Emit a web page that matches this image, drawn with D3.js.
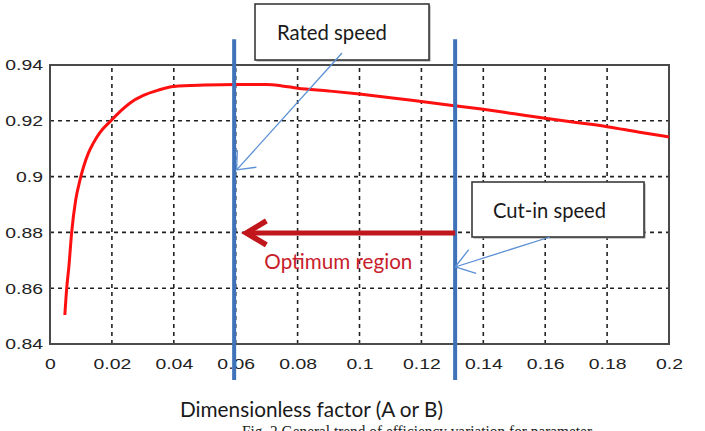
<!DOCTYPE html>
<html>
<head>
<meta charset="utf-8">
<script src="https://cdn.jsdelivr.net/npm/d3@7"></script>
<style>
  html, body { margin: 0; padding: 0; background: #fff; }
  svg { display: block; }
</style>
</head>
<body>
<svg id="chart" width="705" height="431"></svg>
<script>
// Efficiency curve versus the dimensionless factor
const factorX = [0.0048, 0.0054, 0.0061, 0.007, 0.0083, 0.0097, 0.0124, 0.014, 0.016, 0.0194,
                 0.0226, 0.026, 0.03, 0.035, 0.04, 0.05, 0.06, 0.07, 0.075, 0.08, 0.09, 0.1, 0.11,
                 0.12, 0.13, 0.14, 0.15, 0.16, 0.17, 0.18, 0.19, 0.2];
const efficiency = [0.8504, 0.86, 0.8677, 0.88, 0.8916, 0.8988, 0.9084, 0.912, 0.9156, 0.9197,
                    0.9233, 0.9265, 0.929, 0.931, 0.9323, 0.9328, 0.933, 0.933, 0.9325, 0.9317, 0.9307, 0.9296, 0.9283,
                    0.9269, 0.9255, 0.9241, 0.9225, 0.9209, 0.9194, 0.9179, 0.916, 0.9142];

// Axis ticks
const xTicks = [0, 0.02, 0.04, 0.06, 0.08, 0.1, 0.12, 0.14, 0.16, 0.18, 0.2];
const xTickLabels = ["0", "0.02", "0.04", "0.06", "0.08", "0.1", "0.12", "0.14", "0.16", "0.18", "0.2"];
const yTicks = [0.84, 0.86, 0.88, 0.9, 0.92, 0.94];
const yTickLabels = ["0.84", "0.86", "0.88", "0.9", "0.92", "0.94"];

// Speed markers and optimum region
const ratedSpeedX = 0.0595;
const cutInSpeedX = 0.1309;
const markerSpan = [0.8271, 0.9492];
const optimumArrow = { from: cutInSpeedX, to: 0.0628, level: 0.8798 };
const ratedPointer = { tip: [0.0603, 0.9024] };
const cutInPointer = { tip: [0.1309, 0.8676] };

const svg = d3.select("#chart");
const margin = { left: 50, right: 36, top: 65, bottom: 87 };
const W = 705, H = 431;

const x = d3.scaleLinear().domain([0, 0.2]).range([margin.left, W - margin.right]);
const y = d3.scaleLinear().domain([0.84, 0.94]).range([H - margin.bottom, margin.top]);

svg.append("rect").attr("width", W).attr("height", H).attr("fill", "#fff");

// Dashed grid
const grid = svg.append("g").attr("stroke", "#222").attr("stroke-width", 1.6)
  .attr("stroke-dasharray", "4,4");
grid.selectAll("line.v").data(xTicks.slice(1, -1)).join("line")
  .attr("x1", d => x(d)).attr("x2", d => x(d))
  .attr("y1", y(0.84)).attr("y2", y(0.94));
grid.selectAll("line.h").data(yTicks.slice(1, -1)).join("line")
  .attr("x1", x(0)).attr("x2", x(0.2))
  .attr("y1", d => y(d)).attr("y2", d => y(d));

// Axes frame
svg.append("rect")
  .attr("x", x(0)).attr("y", y(0.94))
  .attr("width", x(0.2) - x(0)).attr("height", y(0.84) - y(0.94))
  .attr("fill", "none").attr("stroke", "#4a4a4a").attr("stroke-width", 2);

// Tick labels, set in a slightly widened sans face
function styleTicks(sel) {
  sel.selectAll("text")
    .attr("font-family", "Liberation Sans, Arial, sans-serif")
    .attr("font-size", 15.5).attr("fill", "#222")
    .each(function () {
      const w = this.getComputedTextLength();
      d3.select(this).attr("textLength", w * 1.25).attr("lengthAdjust", "spacingAndGlyphs");
    });
}
const xAxis = d3.axisBottom(x).tickValues(xTicks).tickSize(0).tickPadding(14)
  .tickFormat((d, i) => xTickLabels[i]);
const gx = svg.append("g").attr("transform", `translate(0,${y(0.84)})`).call(xAxis);
gx.select(".domain").remove();
styleTicks(gx);

const yAxis = d3.axisLeft(y).tickValues(yTicks).tickSize(0).tickPadding(7)
  .tickFormat((d, i) => yTickLabels[i]);
const gy = svg.append("g").attr("transform", `translate(${x(0)},0)`).call(yAxis);
gy.select(".domain").remove();
styleTicks(gy);

// Efficiency curve
const line = d3.line().x(d => x(d[0])).y(d => y(d[1])).curve(d3.curveMonotoneX);
svg.append("path")
  .datum(factorX.map((v, i) => [v, efficiency[i]]))
  .attr("d", line).attr("fill", "none")
  .attr("stroke", "#ff1010").attr("stroke-width", 3);

// Vertical speed markers
svg.selectAll("line.marker").data([ratedSpeedX, cutInSpeedX]).join("line")
  .attr("x1", d => x(d)).attr("x2", d => x(d))
  .attr("y1", y(markerSpan[1])).attr("y2", y(markerSpan[0]))
  .attr("stroke", "#3f72b8").attr("stroke-width", 4);

// Optimum region arrow
const ay = y(optimumArrow.level);
const tipX = x(optimumArrow.to);
svg.append("line")
  .attr("x1", x(optimumArrow.from)).attr("x2", tipX + 3)
  .attr("y1", ay).attr("y2", ay)
  .attr("stroke", "#c0161c").attr("stroke-width", 5);
svg.append("polyline")
  .attr("points", `${tipX + 22},${ay - 12} ${tipX + 2},${ay} ${tipX + 22},${ay + 12}`)
  .attr("fill", "none").attr("stroke", "#c0161c").attr("stroke-width", 5.5)
  .attr("stroke-linejoin", "miter").attr("stroke-linecap", "butt");
svg.append("text")
  .attr("x", tipX + 20).attr("y", ay + 36)
  .attr("font-family", "Lato, 'Open Sans', sans-serif").attr("font-size", 21)
  .attr("fill", "#c8202a")
  .attr("textLength", 148).attr("lengthAdjust", "spacingAndGlyphs")
  .text("Optimum region");

// Callout boxes
function callout(bx, by, bw, bh, label, tx, tw) {
  svg.append("rect").attr("x", bx + 1.5).attr("y", by + 1.5).attr("width", bw).attr("height", bh)
    .attr("fill", "#999");
  svg.append("rect").attr("x", bx).attr("y", by).attr("width", bw).attr("height", bh)
    .attr("fill", "#fff").attr("stroke", "#3a3a3a").attr("stroke-width", 1.6);
  svg.append("text").attr("x", tx).attr("y", by + bh / 2 + 8)
    .attr("font-family", "Lato, 'Open Sans', sans-serif").attr("font-size", 21)
    .attr("fill", "#1a1a1a")
    .attr("textLength", tw).attr("lengthAdjust", "spacingAndGlyphs")
    .text(label);
}
callout(255, 4, 174, 56, "Rated speed", 277, 110);
callout(472, 182, 172, 55, "Cut-in speed", 493, 113);

// Thin pointer arrows
function pointer(x0, y0, tip, len, spread) {
  const tx = x(tip[0]), ty = y(tip[1]);
  const ang = Math.atan2(y0 - ty, x0 - tx);
  const g = svg.append("g").attr("stroke", "#5a8fd4").attr("stroke-width", 1.3).attr("fill", "none");
  g.append("line").attr("x1", x0).attr("y1", y0).attr("x2", tx).attr("y2", ty);
  [ang - spread, ang + spread].forEach(a => {
    g.append("line").attr("x1", tx).attr("y1", ty)
      .attr("x2", tx + len * Math.cos(a)).attr("y2", ty + len * Math.sin(a));
  });
}
pointer(342, 53, ratedPointer.tip, 20, 0.7);
pointer(550, 237, cutInPointer.tip, 22, 0.6);

// Axis title
svg.append("text")
  .attr("x", 180).attr("y", 417)
  .attr("font-family", "Lato, 'Open Sans', sans-serif").attr("font-size", 21)
  .attr("fill", "#1a1a1a")
  .attr("textLength", 263).attr("lengthAdjust", "spacingAndGlyphs")
  .text("Dimensionless factor (A or B)");

// Figure caption along the lower edge
svg.append("text")
  .attr("x", 242).attr("y", 437)
  .attr("font-family", "Liberation Serif, 'Times New Roman', serif").attr("font-size", 17)
  .attr("fill", "#222")
  .attr("textLength", 350).attr("lengthAdjust", "spacingAndGlyphs")
  .text("Fig. 2 General trend of efficiency variation for parameter");
</script>
</body>
</html>
